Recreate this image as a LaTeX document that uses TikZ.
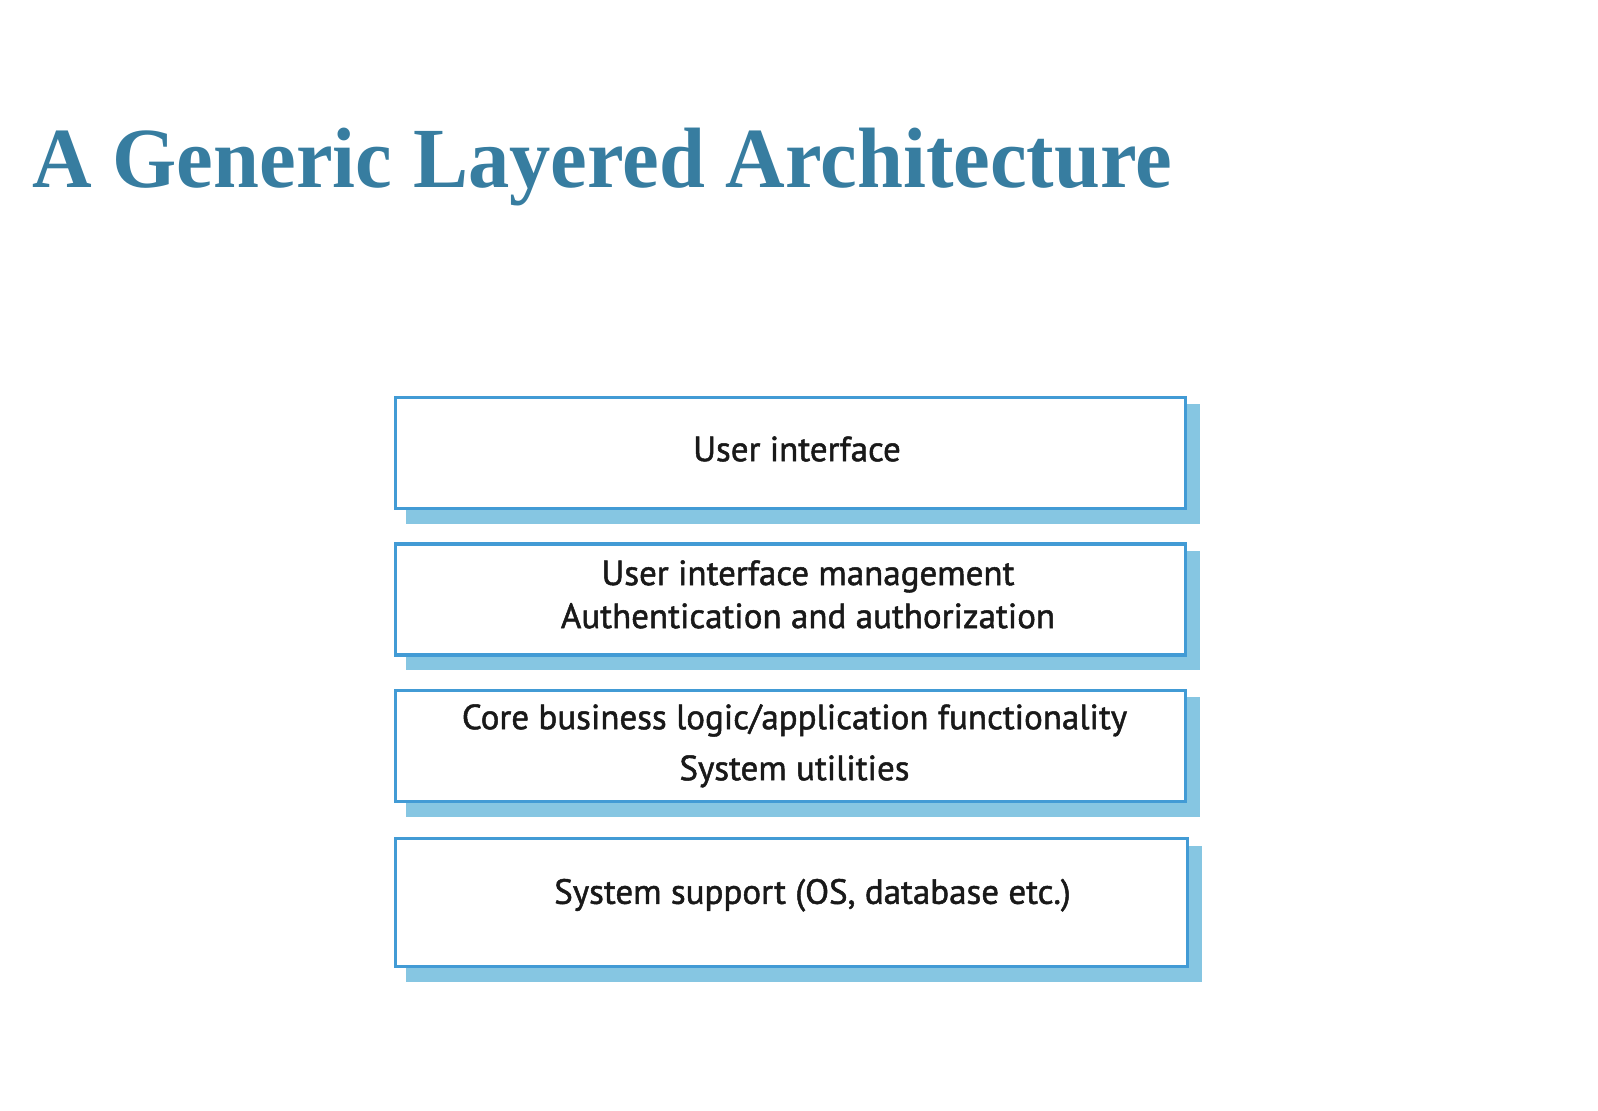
\documentclass[tikz,border=0pt]{standalone}
\usepackage{graphicx}
\usepackage{fontspec}
\setmainfont{Liberation Serif}
\newfontfamily\layerfont[FakeBold=1.4]{PT Sans}
\usetikzlibrary{positioning,backgrounds}
\definecolor{titleblue}{RGB}{55,125,160}
\definecolor{edgeblue}{RGB}{66,155,213}
\definecolor{shadeblue}{RGB}{134,198,226}

\begin{document}
\begin{tikzpicture}[x=0.5pt,y=-0.5pt,node distance=16pt,
    layer/.style={draw=edgeblue,line width=1.7pt,fill=white,inner sep=0pt,minimum width=395pt,minimum height=55.5pt},
    layer text/.style={font=\layerfont\fontsize{17.5}{21.5}\selectfont,align=center,text=black!90}]

    \useasboundingbox (0,0) rectangle (1598,1110);

    \node[anchor=base west,text=titleblue,inner sep=0pt,font=\fontsize{42}{42}\bfseries\selectfont] (title) at (32,187) {\scalebox{0.983}[1.02]{A Generic Layered Architecture}};

    % the four layers, top to bottom
    \node[layer] (ui) at (790.5,453) {};
    \node[layer] (uimgmt) [below=of ui] {};
    \node[layer] (core) [below=of uimgmt] {};
    \node[layer,minimum width=396pt,minimum height=64pt] (support) [below=17pt of core,xshift=0.5pt] {};

    % shadows
    \begin{scope}[on background layer]
        \foreach \n in {ui,uimgmt,core,support}
            \fill[shadeblue] ([shift={(12.5,8.5)}]\n.north west) rectangle ([shift={(12.5,13.5)}]\n.south east);
    \end{scope}

    \node[layer text] (uitext) at ([shift={(6.5,-4)}]ui.center) {User interface};
    \node[layer text] (uimgmttext) at ([shift={(17.5,-5)}]uimgmt.center) {User interface management\\Authentication and authorization};
    \node[layer text] (coretext) at ([shift={(4,0)}]core.center) {Core business logic/application functionality\\[4pt]System utilities};
    \node[layer text] (supporttext) at ([shift={(21,-7.5)}]support.center) {System support (OS, database etc.)};
\end{tikzpicture}
\end{document}
